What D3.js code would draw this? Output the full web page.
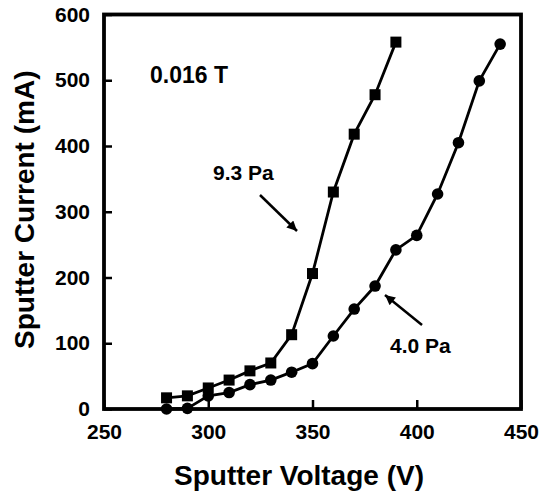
<!DOCTYPE html>
<html>
<head>
<meta charset="utf-8">
<script src="https://cdn.jsdelivr.net/npm/d3@7"></script>
<style>
    body { margin: 0; background: #fff; }
    text { font-family: "Liberation Sans", Arial, sans-serif; font-weight: bold; fill: #000; }
</style>
</head>
<body>
<div id="chart"></div>
<script>

// 9.3 Pa (squares)
const voltage93 = [280, 290, 300, 310, 320, 330, 340, 350, 360, 370, 380, 390];
const current93 = [17, 20, 32, 44, 58, 70, 113, 206, 330, 418, 478, 558];

// 4.0 Pa (circles)
const voltage40 = [280, 290, 300, 310, 320, 330, 340, 350, 360, 370, 380, 390, 400, 410, 420, 430, 440];
const current40 = [0, 1, 20, 25, 37, 44, 56, 69, 111, 152, 187, 242, 264, 327, 405, 499, 555];

const xTicks = [250, 300, 350, 400, 450];
const yTicks = [0, 100, 200, 300, 400, 500, 600];


const width = 548;
const height = 496;
const margin = { left: 104, right: 27, top: 14.5, bottom: 87 };

const svg = d3.select("#chart")
    .append("svg")
    .attr("width", width)
    .attr("height", height);

const x = d3.scaleLinear()
    .domain([250, 450])
    .range([margin.left, width - margin.right]);

const y = d3.scaleLinear()
    .domain([0, 600])
    .range([height - margin.bottom, margin.top]);


// axes, ticks pointing inward
const xAxis = svg.append("g")
    .attr("transform", "translate(0," + y(0) + ")")
    .call(d3.axisBottom(x).tickValues(xTicks).tickSizeInner(-9).tickSizeOuter(0).tickPadding(15));

const yAxis = svg.append("g")
    .attr("transform", "translate(" + x(250) + ",0)")
    .call(d3.axisLeft(y).tickValues(yTicks).tickSizeInner(-8).tickSizeOuter(0).tickPadding(14));

svg.selectAll(".domain").remove();
svg.selectAll(".tick line").attr("stroke", "#000").attr("stroke-width", 2.5);
svg.selectAll(".tick text").style("font-size", "21px");

// frame
svg.append("rect")
    .attr("x", x(250))
    .attr("y", y(600))
    .attr("width", x(450) - x(250))
    .attr("height", y(0) - y(600))
    .attr("fill", "none")
    .attr("stroke", "#000")
    .attr("stroke-width", 3.8);


const line = d3.line()
    .x(function (d) { return x(d[0]) })
    .y(function (d) { return y(d[1]) });

const pts93 = voltage93.map(function (v, i) { return [v, current93[i]] });
const pts40 = voltage40.map(function (v, i) { return [v, current40[i]] });

svg.append("path")
    .datum(pts93)
    .attr("d", line)
    .attr("fill", "none")
    .attr("stroke", "#000")
    .attr("stroke-width", 2.8);

svg.append("path")
    .datum(pts40)
    .attr("d", line)
    .attr("fill", "none")
    .attr("stroke", "#000")
    .attr("stroke-width", 2.8);

svg.selectAll("rect.sq")
    .data(pts93)
    .enter()
    .append("rect")
    .attr("class", "sq")
    .attr("x", function (d) { return x(d[0]) - 5.5 })
    .attr("y", function (d) { return y(d[1]) - 5.5 })
    .attr("width", 11)
    .attr("height", 11)
    .attr("fill", "#000");

svg.selectAll("circle.dot")
    .data(pts40)
    .enter()
    .append("circle")
    .attr("class", "dot")
    .attr("cx", function (d) { return x(d[0]) })
    .attr("cy", function (d) { return y(d[1]) })
    .attr("r", 5.8)
    .attr("fill", "#000");


// axis titles
svg.append("text")
    .attr("x", 299)
    .attr("y", 485)
    .attr("text-anchor", "middle")
    .style("font-size", "28px")
    .text("Sputter Voltage (V)");

svg.append("text")
    .attr("transform", "translate(34," + ((y(0) + y(600)) / 2 - 2) + ") rotate(-90)")
    .attr("text-anchor", "middle")
    .style("font-size", "28px")
    .text("Sputter Current (mA)");


// annotations
svg.append("text")
    .attr("x", 150)
    .attr("y", 83)
    .style("font-size", "23px")
    .text("0.016 T");

svg.append("text")
    .attr("x", 213)
    .attr("y", 180)
    .style("font-size", "21px")
    .text("9.3 Pa");

svg.append("text")
    .attr("x", 390)
    .attr("y", 353)
    .style("font-size", "21px")
    .text("4.0 Pa");

svg.append("defs").append("marker")
    .attr("id", "head")
    .attr("viewBox", "0 0 10 10")
    .attr("refX", 10)
    .attr("refY", 5)
    .attr("markerWidth", 5)
    .attr("markerHeight", 4)
    .attr("markerUnits", "strokeWidth")
    .attr("orient", "auto")
    .append("path")
    .attr("d", "M0,0 L10,5 L0,10 z")
    .attr("fill", "#000");

const arrows = [
    [260, 195, 297, 231],
    [422, 325, 385, 295]
];

svg.selectAll("line.arrow")
    .data(arrows)
    .enter()
    .append("line")
    .attr("class", "arrow")
    .attr("x1", function (d) { return d[0] })
    .attr("y1", function (d) { return d[1] })
    .attr("x2", function (d) { return d[2] })
    .attr("y2", function (d) { return d[3] })
    .attr("stroke", "#000")
    .attr("stroke-width", 2.5)
    .attr("marker-end", "url(#head)");

</script>
</body>
</html>
